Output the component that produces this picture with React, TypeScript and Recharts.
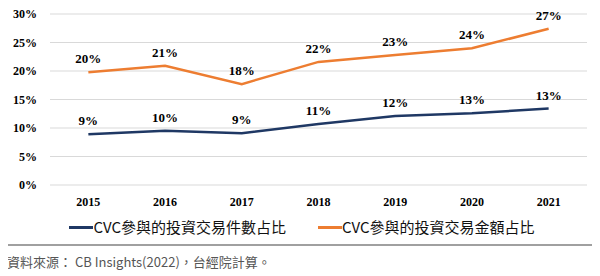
import { CartesianGrid, LabelList, Legend, Line, LineChart, XAxis, YAxis } from "recharts";

const years = ["2015", "2016", "2017", "2018", "2019", "2020", "2021"];
const dealCountShare = [8.9, 9.5, 9.1, 10.7, 12.1, 12.6, 13.4];
const dealAmountShare = [19.8, 20.9, 17.7, 21.6, 22.8, 24.0, 27.4];
const yTicks = [0, 5, 10, 15, 20, 25, 30];

const COUNT_NAME = "CVC參與的投資交易件數占比";
const AMOUNT_NAME = "CVC參與的投資交易金額占比";

const C = {
  count: "#1f3864",
  amount: "#ed7d31",
  grid: "#d9d9d9",
  text: "#000000",
  frame: "#a0a0a0",
};

const data = years.map((year, i) => ({
  year,
  count: dealCountShare[i],
  amount: dealAmountShare[i],
}));

const serif = "'Times New Roman', 'Liberation Serif', serif";
const cjk = '"Noto Sans CJK TC", "Noto Sans", sans-serif';

function LegendRow() {
  const items = [
    { name: COUNT_NAME, color: C.count },
    { name: AMOUNT_NAME, color: C.amount },
  ];
  return (
    <div style={{ display: "flex", justifyContent: "center", gap: 32, paddingLeft: 10, paddingTop: 5 }}>
      {items.map((it) => (
        <div key={it.name} style={{ display: "flex", alignItems: "center" }}>
          <span style={{ display: "inline-block", width: 24, height: 3, background: it.color }} />
          <span style={{ fontFamily: cjk, fontSize: 15, color: "#111", lineHeight: "18px" }}>{it.name}</span>
        </div>
      ))}
    </div>
  );
}

export default function App() {
  const label = () => (
    <LabelList
      position="top"
      offset={9}
      formatter={(v: number) => `${Math.round(v)}%`}
      fontFamily={serif}
      fontWeight={700}
      fontSize={13}
      fill={C.text}
    />
  );
  return (
    <div style={{ position: "relative", width: 600, height: 276, marginLeft: -8, marginTop: -8, background: "#fff" }}>
      <div style={{ position: "absolute", left: 7, top: 1, fontFamily: serif }}>
        <LineChart width={590} height={244} data={data} margin={{ top: 13, right: 10, left: 0, bottom: 0 }}>
          <CartesianGrid vertical={false} stroke={C.grid} />
          <XAxis
            dataKey="year"
            scale="band"
            axisLine={false}
            tickLine={false}
            tickMargin={6}
            height={28}
            tick={{ fontFamily: serif, fontWeight: 700, fontSize: 12, fill: C.text }}
          />
          <YAxis
            domain={[0, 30]}
            ticks={yTicks}
            width={43}
            axisLine={false}
            tickLine={false}
            tickMargin={7}
            tickFormatter={(v) => `${v}%`}
            tick={{ fontFamily: serif, fontWeight: 700, fontSize: 12, fill: C.text }}
          />
          <Legend verticalAlign="bottom" height={32} content={() => <LegendRow />} />
          <Line
            dataKey="count"
            name={COUNT_NAME}
            stroke={C.count}
            strokeWidth={2.5}
            dot={false}
            isAnimationActive={false}
          >
            {label()}
          </Line>
          <Line
            dataKey="amount"
            name={AMOUNT_NAME}
            stroke={C.amount}
            strokeWidth={2.5}
            dot={false}
            isAnimationActive={false}
          >
            {label()}
          </Line>
        </LineChart>
      </div>
      <div
        style={{
          position: "absolute",
          left: 6,
          top: 0,
          width: 592,
          height: 246,
          boxSizing: "border-box",
          border: `2px solid ${C.frame}`,
          pointerEvents: "none",
        }}
      />
      <div
        style={{
          position: "absolute",
          left: 7,
          top: 252,
          fontFamily: cjk,
          fontSize: 13,
          color: "#555",
          whiteSpace: "nowrap",
        }}
      >
        資料來源： CB Insights(2022)，台經院計算。
      </div>
    </div>
  );
}
